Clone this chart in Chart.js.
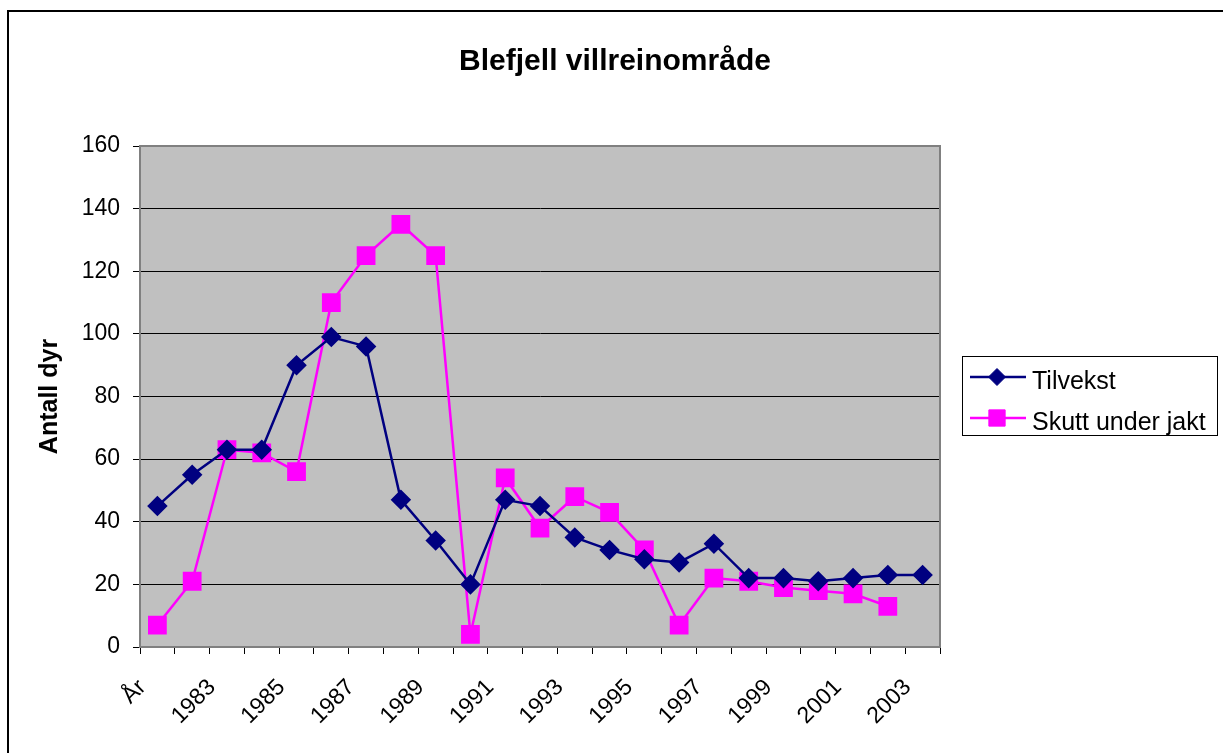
<!DOCTYPE html>
<html lang="no">
<head>
    <meta charset="UTF-8">
    <title>Blefjell villreinområde</title>
    <script src="https://cdn.jsdelivr.net/npm/chart.js"></script>
    <style>
        body{ margin:0; background:#fff; }
        #wrap{ position:absolute; left:0; top:0; width:1223px; height:753px; }
    </style>
</head>
<body>
    <div id="wrap"><canvas id="myChart" width="1223" height="753"></canvas></div>
<script>
    const labels = ['År','1982','1983','1984','1985','1986','1987','1988','1989','1990','1991','1992',
                    '1993','1994','1995','1996','1997','1998','1999','2000','2001','2002','2003'];
    const tilvekst = [45, 55, 63, 63, 90, 99, 96, 47, 34, 20, 47, 45, 35, 31, 28, 27, 33, 22, 22, 21, 22, 23, 23];
    const skutt    = [7, 21, 63, 62, 56, 110, 125, 135, 125, 4, 54, 38, 48, 43, 31, 7, 22, 21, 19, 18, 17, 13, null];
    const yTicks = [0, 20, 40, 60, 80, 100, 120, 140, 160];
    const chartTitle = 'Blefjell villreinområde';

    const font = "'Liberation Sans', Arial, sans-serif";

    // grå plotflate, tittel og ramme rundt hele figuren
    const frame = {
        id: 'frame',
        beforeDraw(chart){
            const {ctx, chartArea: a} = chart;
            ctx.save();
            ctx.fillStyle = '#fff';
            ctx.fillRect(0, 0, chart.width, chart.height);
            ctx.fillStyle = '#c0c0c0';
            ctx.fillRect(a.left, a.top, a.right - a.left, a.bottom - a.top);
            ctx.strokeStyle = '#000';
            ctx.lineWidth = 2;
            ctx.beginPath();
            ctx.moveTo(8, chart.height);
            ctx.lineTo(8, 11);
            ctx.lineTo(chart.width, 11);
            ctx.stroke();
            ctx.fillStyle = '#000';
            ctx.font = 'bold 30px ' + font;
            ctx.textAlign = 'center';
            ctx.textBaseline = 'alphabetic';
            ctx.fillText(chartTitle, 615, 70);
            ctx.restore();
        },
        afterDatasetsDraw(chart){
            const {ctx, chartArea: a} = chart;
            ctx.save();
            ctx.strokeStyle = '#808080';
            ctx.lineWidth = 2;
            ctx.strokeRect(a.left, a.top, a.right - a.left, a.bottom - a.top);
            ctx.restore();
        }
    };

    // forklaring til høyre, linje + markør som i Excel
    const legendBox = {
        id: 'legendBox',
        afterDraw(chart){
            const {ctx} = chart;
            ctx.save();
            ctx.strokeStyle = '#000';
            ctx.lineWidth = 1;
            ctx.strokeRect(962.5, 356.5, 255, 79);
            chart.data.datasets.forEach((ds, i) => {
                const y = 377 + i * 41;
                ctx.strokeStyle = ds.borderColor;
                ctx.lineWidth = 2.5;
                ctx.beginPath();
                ctx.moveTo(970, y);
                ctx.lineTo(1026, y);
                ctx.stroke();
                ctx.fillStyle = ds.pointBackgroundColor;
                ctx.strokeStyle = ds.pointBorderColor;
                ctx.lineWidth = 1;
                Chart.helpers.drawPoint(ctx, {pointStyle: ds.pointStyle, rotation: 0, radius: ds.pointRadius, borderWidth: 1}, 997, y);
                ctx.fillStyle = '#000';
                ctx.font = '25px ' + font;
                ctx.textBaseline = 'alphabetic';
                ctx.textAlign = 'left';
                ctx.fillText(ds.label, 1032, y + 12);
            });
            ctx.restore();
        }
    };

    const ctx = document.querySelector('#myChart');
    const myChart = new Chart(ctx, {
        type: 'line',
        data: {
            labels: labels,
            datasets: [{
                label: 'Tilvekst',
                data: tilvekst,
                borderColor: '#000080',
                backgroundColor: '#000080',
                pointBackgroundColor: '#000080',
                pointBorderColor: '#000080',
                pointStyle: 'rectRot',
                pointRadius: 8.5,
                borderWidth: 2.5,
                tension: 0
            }, {
                label: 'Skutt under jakt',
                data: skutt,
                borderColor: '#ff00ff',
                backgroundColor: '#ff00ff',
                pointBackgroundColor: '#ff00ff',
                pointBorderColor: '#ff00ff',
                pointStyle: 'rect',
                pointRadius: 11.5,
                borderWidth: 2.5,
                tension: 0
            }]
        },
        options: {
            responsive: false,
            animation: false,
            layout: { padding: { left: 0, right: 283, top: 146, bottom: 0 } },
            plugins: {
                legend: { display: false },
                tooltip: { enabled: false },
                title: { display: false }
            },
            scales: {
                x: {
                    offset: true,
                    grid: {
                        offset: true,
                        drawOnChartArea: false,
                        drawTicks: true,
                        tickLength: 7,
                        color: '#000'
                    },
                    border: { color: '#404040', width: 2 },
                    ticks: {
                        autoSkip: false,
                        maxRotation: 45,
                        minRotation: 45,
                        color: '#000',
                        padding: 20,
                        labelOffset: -15,
                        font: { family: font, size: 23 },
                        callback: (v, i) => (i % 2 === 0 ? labels[i] : '')
                    },
                    afterFit(scale){ scale.height = 106; }
                },
                y: {
                    min: 0,
                    max: 160,
                    afterBuildTicks(scale){ scale.ticks = yTicks.map(v => ({value: v})); },
                    grid: {
                        color: '#000',
                        lineWidth: 1,
                        tickLength: 7
                    },
                    border: { color: '#404040', width: 2 },
                    ticks: {
                        color: '#000',
                        padding: 13,
                        font: { family: font, size: 23 }
                    },
                    title: {
                        display: true,
                        text: 'Antall dyr',
                        color: '#000',
                        font: { family: font, size: 25, weight: 'bold' },
                        padding: { top: 35, bottom: 0 }
                    },
                    afterFit(scale){ scale.width = 140; }
                }
            }
        },
        plugins: [frame, legendBox]
    });
</script>
</body>
</html>
